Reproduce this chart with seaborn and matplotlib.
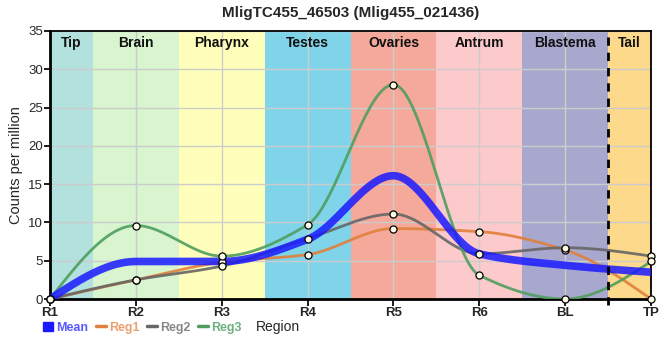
import matplotlib
matplotlib.use("Agg")
import matplotlib.pyplot as plt
from matplotlib.patches import Patch
from matplotlib.lines import Line2D
import seaborn as sns
import numpy as np
import pandas as pd

# dados
regioes = ["R1", "R2", "R3", "R4", "R5", "R6", "BL", "TP"]
media = [0.0, 4.9, 4.9, 7.8, 16.1, 5.9, 4.4, 3.5]
reg1 = [0.0, 2.5, 4.8, 5.8, 9.2, 8.8, 6.4, 0.0]
reg2 = [0.0, 2.5, 4.3, 7.9, 11.1, 5.9, 6.7, 5.6]
reg3 = [0.0, 9.6, 5.6, 9.7, 28.0, 3.1, 0.0, 4.9]

faixas = ["Tip", "Brain", "Pharynx", "Testes", "Ovaries", "Antrum", "Blastema", "Tail"]
cores_faixas = ["#b3e1dd", "#d8f5d0", "#ffffbb", "#80d4ea", "#f4a99a",
                "#fdcacb", "#a8a8cf", "#fdd98b"]
limites_faixas = [0, 0.5, 1.5, 2.5, 3.5, 4.5, 5.5, 6.5, 7]

sns.set_theme(style="whitegrid")
plt.rcParams["font.family"] = ["Liberation Sans Narrow", "Liberation Sans", "DejaVu Sans"]


def pchip(y, n=40):
    # curva monotona (Fritsch-Carlson) so para desenhar a linha suave
    y = np.asarray(y, dtype=float)
    x = np.arange(len(y), dtype=float)
    d = np.diff(y)
    m = np.zeros(len(y))
    for i in range(1, len(y) - 1):
        if d[i - 1] * d[i] > 0:
            m[i] = 2.0 / (1.0 / d[i - 1] + 1.0 / d[i])
    m[0] = d[0] * 1.5 - m[1] * 0.5
    if m[0] * d[0] <= 0:
        m[0] = 0
    m[-1] = d[-1] * 1.5 - m[-2] * 0.5
    if m[-1] * d[-1] <= 0:
        m[-1] = 0
    xs, ys = [], []
    for i in range(len(y) - 1):
        t = np.linspace(0, 1, n, endpoint=False)
        h00 = 2 * t**3 - 3 * t**2 + 1
        h10 = t**3 - 2 * t**2 + t
        h01 = -2 * t**3 + 3 * t**2
        h11 = t**3 - t**2
        xs.append(x[i] + t)
        ys.append(h00 * y[i] + h10 * m[i] + h01 * y[i + 1] + h11 * m[i + 1])
    xs.append([x[-1]])
    ys.append([y[-1]])
    return np.concatenate(xs), np.concatenate(ys)


series = {"Mean": media, "Reg1": reg1, "Reg2": reg2, "Reg3": reg3}
cores = {"Mean": "#1a1aff", "Reg1": "#e0803a", "Reg2": "#666666", "Reg3": "#4f9e5f"}
larguras = {"Mean": 5.5, "Reg1": 2.0, "Reg2": 2.0, "Reg3": 2.0}
cores_texto = {"Mean": "#5a5aff", "Reg1": "#eba070", "Reg2": "#888888", "Reg3": "#6db080"}

linhas = []
for nome, vals in series.items():
    xs, ys = pchip(vals)
    linhas.append(pd.DataFrame({"x": xs, "y": ys, "serie": nome}))
df_linhas = pd.concat(linhas, ignore_index=True)

pontos = []
for nome in ["Reg1", "Reg2", "Reg3"]:
    pontos.append(pd.DataFrame({"x": np.arange(len(regioes)), "y": series[nome], "serie": nome}))
df_pontos = pd.concat(pontos, ignore_index=True)

fig = plt.figure(figsize=(6.6, 3.6), dpi=100)
ax = fig.add_axes([0.0758, 0.1694, 0.9106, 0.7445])

for i, (nome, cor) in enumerate(zip(faixas, cores_faixas)):
    ax.axvspan(limites_faixas[i], limites_faixas[i + 1], color=cor, zorder=0.2, lw=0)
    ax.text((limites_faixas[i] + limites_faixas[i + 1]) / 2, 34.4, nome, ha="center", va="top",
            fontsize=10, fontweight="bold", color="#111111", zorder=5)

for nome in ["Reg1", "Reg2", "Reg3", "Mean"]:
    sub = df_linhas[df_linhas.serie == nome]
    sns.lineplot(data=sub, x="x", y="y", color=cores[nome], lw=larguras[nome],
                 alpha=0.85 if nome == "Mean" else 0.9, ax=ax, legend=False, zorder=3,
                 estimator=None, sort=False)

sns.scatterplot(data=df_pontos, x="x", y="y", s=26, color="#fbfbe8", edgecolor="black",
                linewidth=0.9, ax=ax, zorder=4, legend=False, clip_on=False)

ax.plot([6.5, 6.5], [-0.8, 35], color="black", lw=2, ls=(0, (3, 2.5)), clip_on=False, zorder=5)

ax.set_xlim(0, 7)
ax.set_ylim(0, 35)
ax.set_xticks(range(len(regioes)))
ax.set_xticklabels(regioes, fontsize=9.5, fontweight="bold")
ax.set_yticks(range(0, 36, 5))
ax.tick_params(axis="y", labelsize=9.5, length=4, color="black", pad=1)
ax.tick_params(axis="x", length=5, color="black", pad=1)
ax.tick_params(bottom=True, left=True)
ax.grid(True, color="#cccccc", lw=1)
ax.set_axisbelow(True)
for lado in ["left", "bottom"]:
    ax.spines[lado].set_color("black")
    ax.spines[lado].set_linewidth(2)
for lado in ["top", "right"]:
    ax.spines[lado].set_color("black")
    ax.spines[lado].set_linewidth(1.3)

ax.set_ylabel("Counts per million", fontsize=10.5, labelpad=4)
ax.set_xlabel("Region", fontsize=10)
ax.xaxis.set_label_coords(0.379, -0.08)
ax.set_title("MligTC455_46503 (Mlig455_021436)", fontsize=11, fontweight="bold", pad=10)

alcas = [Patch(color=cores["Mean"])] + [Line2D([], [], color=cores[n], lw=2.5) for n in ["Reg1", "Reg2", "Reg3"]]
leg = fig.legend(alcas, list(series.keys()), loc="center left", bbox_to_anchor=(0.065, 0.09),
                 ncol=4, frameon=False, handlelength=0.8, handletextpad=0.25,
                 columnspacing=0.6, borderpad=0, borderaxespad=0,
                 prop={"weight": "bold", "size": 9})
for txt, nome in zip(leg.get_texts(), series.keys()):
    txt.set_color(cores_texto[nome])

fig.savefig("out.png", dpi=100)
